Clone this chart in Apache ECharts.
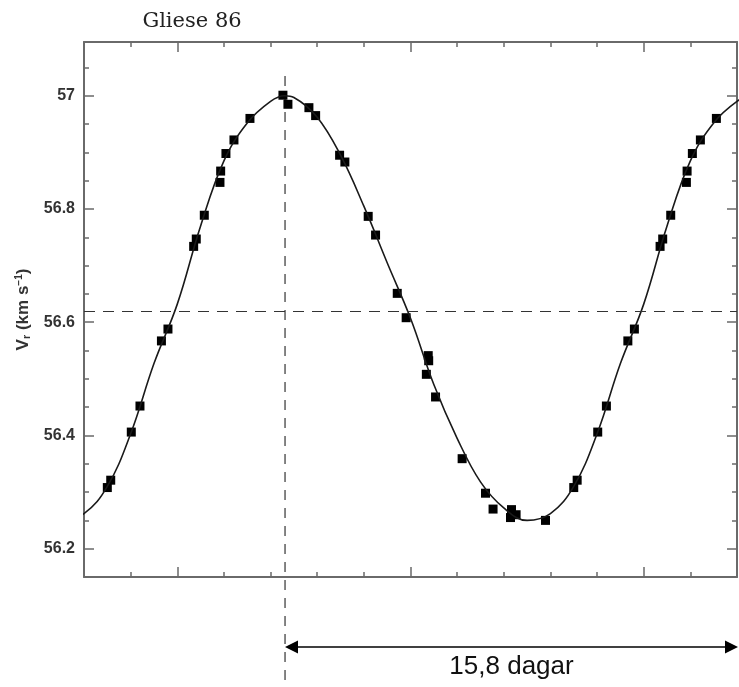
<!DOCTYPE html>
<html>
<head>
<meta charset="utf-8">
<title>Gliese 86</title>
<script src="https://cdn.jsdelivr.net/npm/echarts@6/dist/echarts.min.js"></script>
<style>
    html, body { margin: 0; padding: 0; background: #fff; }
    #main { width: 739px; height: 687px; }
</style>
</head>
<body>
<div id="main"></div>
<script>
// observed radial velocities, folded on the orbital phase (one period)
const obsPhase = [0.0351, 0.0407, 0.0579, 0.0915, 0.0930, 0.1043, 0.1215, 0.1558, 0.2265, 0.2372,
    0.2822, 0.2966, 0.3480, 0.3593, 0.4093, 0.4251, 0.4716, 0.4907, 0.5340, 0.5380,
    0.5390, 0.5537, 0.6107, 0.6608, 0.6770, 0.7144, 0.7165, 0.7264, 0.7894, 0.8500,
    0.8573, 0.9014, 0.9200, 0.9660, 0.9800];
const obsVr = [56.734, 56.747, 56.789, 56.847, 56.867, 56.898, 56.922, 56.960, 57.001, 56.985,
    56.979, 56.965, 56.895, 56.883, 56.787, 56.754, 56.651, 56.608, 56.508, 56.541,
    56.532, 56.468, 56.359, 56.298, 56.270, 56.255, 56.269, 56.260, 56.250, 56.308,
    56.321, 56.406, 56.452, 56.567, 56.588];

// fitted orbit
const fitPhase = [0, 0.05, 0.1, 0.15, 0.2, 0.23, 0.25, 0.3, 0.35, 0.4, 0.45, 0.5,
    0.55, 0.6, 0.65, 0.7, 0.75, 0.8, 0.85, 0.9, 0.95];
const fitVr = [56.632, 56.77, 56.885, 56.952, 56.99, 57.0, 56.997, 56.962, 56.895, 56.805, 56.705, 56.607,
    56.49, 56.395, 56.318, 56.272, 56.25, 56.262, 56.31, 56.403, 56.527];

const xMajorTicks = [0, 0.5, 1];
const xMinorTicks = [-0.1, 0.1, 0.2, 0.3, 0.4, 0.6, 0.7, 0.8, 0.9, 1.1];
const yMajorTicks = [56.2, 56.4, 56.6, 56.8, 57];
const yMinorTicks = [56.15, 56.25, 56.3, 56.35, 56.45, 56.5, 56.55, 56.65, 56.7, 56.75, 56.85, 56.9, 56.95, 57.05];

const meanVr = 56.622;
const peakPhase = 0.231;
const peakLineTop = 57.035;
const periodText = '15,8 dagar';

const xMin = -0.2, xMax = 1.2;
const yMin = 56.15, yMax = 57.095;

// the plot repeats the folded data outside 0..1
let obsData = [];
let fitData = [];
[-1, 0, 1].forEach(shift => {
    obsPhase.forEach((p, i) => {
        let x = p + shift;
        if (x >= xMin && x <= xMax) obsData.push([x, obsVr[i]]);
    });
    fitPhase.forEach((p, i) => {
        let x = p + shift;
        if (x >= xMin - 0.1 && x <= xMax + 0.1) fitData.push([x, fitVr[i]]);
    });
});
fitData.sort((a, b) => a[0] - b[0]);

const axisGray = '#6a6a6a';

function xAxisDef(pos, ticks, len, show) {
    return {
        type: 'value', position: pos, min: xMin, max: xMax,
        axisLine: { show: show, onZero: false, lineStyle: { color: axisGray, width: 2 } },
        axisTick: { show: true, inside: true, length: len, customValues: ticks,
            lineStyle: { color: axisGray, width: 1.5 } },
        axisLabel: { show: false },
        splitLine: { show: false }
    };
}

function yAxisDef(pos, ticks, len, show, labels) {
    let ax = {
        type: 'value', position: pos, min: yMin, max: yMax,
        axisLine: { show: show, onZero: false, lineStyle: { color: axisGray, width: 2 } },
        axisTick: { show: true, inside: true, length: len, customValues: ticks,
            lineStyle: { color: axisGray, width: 1.5 } },
        axisLabel: { show: false },
        splitLine: { show: false }
    };
    if (labels) {
        ax.axisLabel = {
            show: true, customValues: ticks, margin: 9,
            formatter: v => String(v),
            color: '#333', fontSize: 16, fontWeight: 'bold', fontFamily: 'Liberation Sans'
        };
        ax.name = 'V{sub|r} (km s{sup|−1})';
        ax.nameLocation = 'middle';
        ax.nameRotate = 90;
        ax.nameGap = 52;
        ax.nameTextStyle = {
            color: '#333', fontSize: 17, fontWeight: 'bold', fontFamily: 'Liberation Sans',
            rich: {
                sub: { fontSize: 11, fontWeight: 'bold', verticalAlign: 'bottom', padding: [7, 0, 0, 0] },
                sup: { fontSize: 10, fontWeight: 'bold', verticalAlign: 'top', padding: [0, 0, 7, 0] }
            }
        };
    }
    return ax;
}

var myChart = echarts.init(document.getElementById('main'));
option = {
    backgroundColor: '#fff',
    animation: false,
    title: {
        text: 'Gliese 86',
        left: 187, top: 6, textAlign: 'center',
        textStyle: { fontFamily: 'DejaVu Serif', fontSize: 21, fontWeight: 'normal', color: '#222' }
    },
    grid: { left: 84, right: 2, top: 42, bottom: 110 },
    xAxis: [
        xAxisDef('bottom', xMajorTicks, 10, true),
        xAxisDef('bottom', xMinorTicks, 5, false),
        xAxisDef('top', xMajorTicks, 10, true),
        xAxisDef('top', xMinorTicks, 5, false)
    ],
    yAxis: [
        yAxisDef('left', yMajorTicks, 10, true, true),
        yAxisDef('left', yMinorTicks, 5, false, false),
        yAxisDef('right', yMajorTicks, 10, true, false),
        yAxisDef('right', yMinorTicks, 5, false, false)
    ],
    series: [
        {
            name: 'fit',
            type: 'line',
            data: fitData,
            smooth: 0.4,
            clip: true,
            showSymbol: false,
            lineStyle: { color: '#1a1a1a', width: 1.6 },
            markLine: {
                silent: true,
                symbol: 'none',
                label: { show: false },
                lineStyle: { color: '#333', width: 1.2, type: [11, 8] },
                data: [{ yAxis: meanVr }]
            }
        },
        {
            name: 'obs',
            type: 'scatter',
            data: obsData,
            symbol: 'rect',
            symbolSize: 9,
            itemStyle: { color: '#000', opacity: 1 }
        }
    ]
};
myChart.setOption(option);

// dashed line at the velocity peak and the period arrow below the plot
let px = myChart.convertToPixel({ xAxisIndex: 0 }, peakPhase);
let pyTop = myChart.convertToPixel({ yAxisIndex: 0 }, peakLineTop);
let W = myChart.getWidth(), H = myChart.getHeight();
let arrowY = 647;
let xEnd = W - 1;
myChart.setOption({
    graphic: [
        { type: 'line', silent: true, shape: { x1: px, y1: pyTop, x2: px, y2: H },
            style: { stroke: '#333', lineWidth: 1.2, lineDash: [10, 8] } },
        { type: 'line', silent: true, shape: { x1: px + 6, y1: arrowY, x2: xEnd - 6, y2: arrowY },
            style: { stroke: '#000', lineWidth: 1.5 } },
        { type: 'polygon', silent: true, shape: { points: [[px, arrowY], [px + 13, arrowY - 6.5], [px + 13, arrowY + 6.5]] },
            style: { fill: '#000' } },
        { type: 'polygon', silent: true, shape: { points: [[xEnd, arrowY], [xEnd - 13, arrowY - 6.5], [xEnd - 13, arrowY + 6.5]] },
            style: { fill: '#000' } },
        { type: 'text', silent: true, x: (px + xEnd) / 2, y: 667,
            style: { text: periodText, fill: '#111', fontSize: 26, fontFamily: 'Liberation Sans',
                align: 'center', verticalAlign: 'middle' } }
    ]
});
</script>
</body>
</html>
